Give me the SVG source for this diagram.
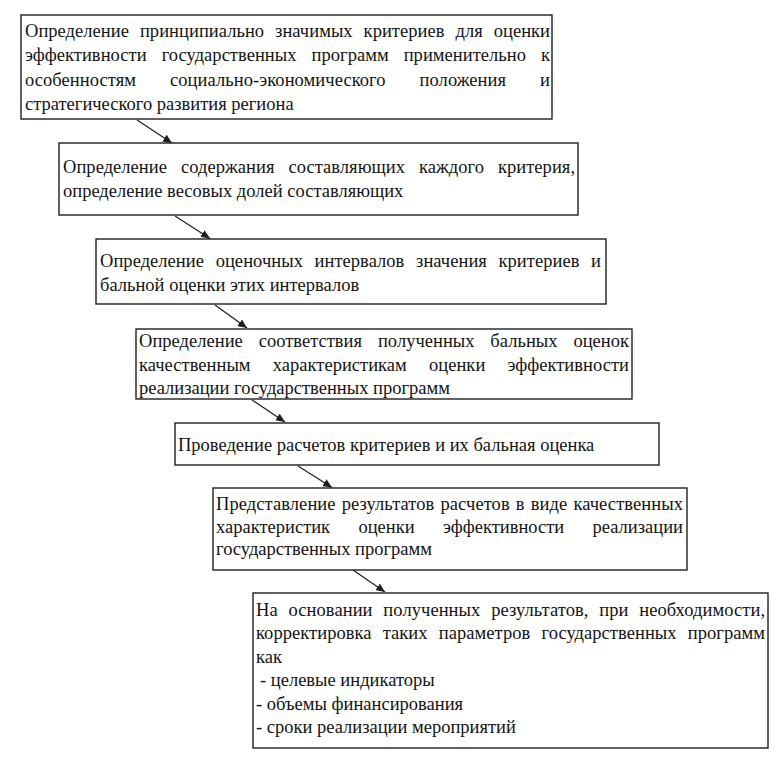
<svg xmlns="http://www.w3.org/2000/svg" width="781" height="758" viewBox="0 0 781 758">
<defs>
<style>
.box{fill:#fff;stroke:#1e1e1e;stroke-width:1.4}
.t{font-family:"Liberation Serif","Times New Roman",serif;font-size:18.5px;fill:#141414}
.c{stroke:#1e1e1e;stroke-width:1.2;fill:none;marker-end:url(#ah)}
</style>
<marker id="ah" markerUnits="userSpaceOnUse" markerWidth="10" markerHeight="8" refX="9" refY="4" orient="auto">
<path d="M0,0 L9,4 L0,8 z" fill="#1e1e1e"/>
</marker>
</defs>
<rect width="781" height="758" fill="#fff"/>
<g id="connectors">
<line class="c" x1="137" y1="120" x2="172" y2="143"/>
<line class="c" x1="175" y1="216" x2="210" y2="238.5"/>
<line class="c" x1="215" y1="305" x2="247" y2="328"/>
<line class="c" x1="252" y1="400" x2="285" y2="422"/>
<line class="c" x1="298" y1="466" x2="332" y2="487.5"/>
<line class="c" x1="353" y1="570" x2="385" y2="592"/>
</g>
<g id="n1">
<rect class="box" x="21" y="15" width="531" height="104"/>
<text class="t" x="25" y="37" word-spacing="6.3" textLength="525" lengthAdjust="spacing">Определение принципиально значимых критериев для оценки</text>
<text class="t" x="25" y="61.3" word-spacing="10.4" textLength="525" lengthAdjust="spacing">эффективности государственных программ применительно к</text>
<text class="t" x="25" y="85.6" word-spacing="29.3" textLength="525" lengthAdjust="spacing">особенностям социально-экономического положения и</text>
<text class="t" x="25" y="110">стратегического развития региона</text>
</g>
<g id="n2">
<rect class="box" x="59" y="143" width="519" height="72"/>
<text class="t" x="63" y="173" word-spacing="9.3" textLength="512" lengthAdjust="spacing">Определение содержания составляющих каждого критерия,</text>
<text class="t" x="63" y="196.5">определение весовых долей составляющих</text>
</g>
<g id="n3">
<rect class="box" x="96" y="239" width="510" height="65"/>
<text class="t" x="100" y="267" word-spacing="7" textLength="501" lengthAdjust="spacing">Определение оценочных интервалов значения критериев и</text>
<text class="t" x="100" y="290.5">бальной оценки этих интервалов</text>
</g>
<g id="n4">
<rect class="box" x="136" y="329" width="496" height="70"/>
<text class="t" x="139" y="347" word-spacing="11.2" textLength="490" lengthAdjust="spacing">Определение соответствия полученных бальных оценок</text>
<text class="t" x="139" y="370.5" word-spacing="17.5" textLength="490" lengthAdjust="spacing">качественным характеристикам оценки эффективности</text>
<text class="t" x="139" y="394">реализации государственных программ</text>
</g>
<g id="n5">
<rect class="box" x="175" y="423" width="484" height="42"/>
<text class="t" x="178" y="451">Проведение расчетов критериев и их бальная оценка</text>
</g>
<g id="n6">
<rect class="box" x="213" y="488" width="474" height="82"/>
<text class="t" x="216" y="510" word-spacing="1.4" textLength="467" lengthAdjust="spacing">Представление результатов расчетов в виде качественных</text>
<text class="t" x="216" y="532.5" word-spacing="23.7" textLength="467" lengthAdjust="spacing">характеристик оценки эффективности реализации</text>
<text class="t" x="216" y="555">государственных программ</text>
</g>
<g id="n7">
<rect class="box" x="253" y="593" width="515" height="155"/>
<text class="t" x="256" y="616" word-spacing="6.1" textLength="509" lengthAdjust="spacing">На основании полученных результатов, при необходимости,</text>
<text class="t" x="256" y="639.4" word-spacing="6.5" textLength="509" lengthAdjust="spacing">корректировка таких параметров государственных программ</text>
<text class="t" x="256" y="662.8">как</text>
<text class="t" x="260" y="686.2">- целевые индикаторы</text>
<text class="t" x="256" y="709.6">- объемы финансирования</text>
<text class="t" x="256" y="733">- сроки реализации мероприятий</text>
</g>
</svg>
